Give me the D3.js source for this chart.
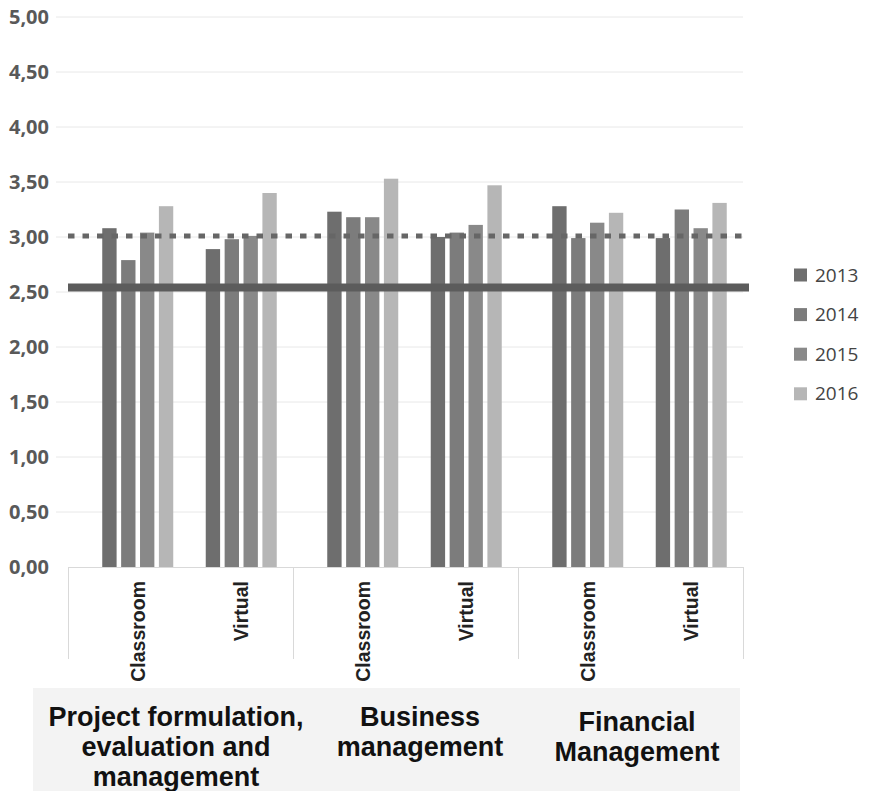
<!DOCTYPE html>
<html>
<head>
<meta charset="utf-8">
<script src="https://cdn.jsdelivr.net/npm/d3@7"></script>
<style>
  html, body { margin: 0; padding: 0; background: #fff; }
  svg { display: block; }
</style>
</head>
<body>
<svg id="chart" width="872" height="791"></svg>
<script>
// Course groups and delivery modes
const groups = ["Project formulation, evaluation and management", "Business management", "Financial Management"];
const groupLines = [
  ["Project formulation,", "evaluation and", "management"],
  ["Business", "management"],
  ["Financial", "Management"]
];
const modes = ["Classroom", "Virtual"];
const years = ["2013", "2014", "2015", "2016"];

// Scores per year, ordered group by group: Classroom then Virtual
const v2013 = [3.08, 2.89, 3.23, 3.00, 3.28, 2.99];
const v2014 = [2.79, 2.98, 3.18, 3.04, 2.99, 3.25];
const v2015 = [3.04, 3.01, 3.18, 3.11, 3.13, 3.08];
const v2016 = [3.28, 3.40, 3.53, 3.47, 3.22, 3.31];
const seriesValues = [v2013, v2014, v2015, v2016];

// Reference levels
const minLevel = 2.54;   // solid line
const goalLevel = 3.01;  // dotted line

const yTicks = [0, 0.5, 1, 1.5, 2, 2.5, 3, 3.5, 4, 4.5, 5];
const colors = ["#6e6e6e", "#7c7c7c", "#898989", "#b6b6b6"];

const svg = d3.select("#chart");

const plot = { left: 68, right: 743, top: 17, bottom: 567 };

const y = d3.scaleLinear().domain([0, 5]).range([plot.bottom, plot.top]);
const xGroup = d3.scaleBand().domain(groups).range([plot.left, plot.right]);
const xMode = d3.scaleBand().domain(modes).range([18, xGroup.bandwidth()]);
const clusterW = 71;
const xYear = d3.scaleBand().domain(years).range([-clusterW / 2, clusterW / 2]).paddingInner(0.24);

const fmt = v => d3.format(".2f")(v).replace(".", ",");

// Gridlines
svg.append("g")
  .selectAll("line")
  .data(yTicks.filter(t => t > 0))
  .join("line")
  .attr("x1", 56).attr("x2", plot.right)
  .attr("y1", d => y(d)).attr("y2", d => y(d))
  .attr("stroke", "#e8e8e8").attr("stroke-width", 1);

// Y axis labels
const yAxis = d3.axisLeft(y).tickValues(yTicks).tickFormat(fmt).tickSize(0).tickPadding(0);
const yg = svg.append("g").attr("transform", "translate(49,0)").call(yAxis);
yg.select(".domain").remove();
yg.selectAll("text")
  .attr("font-family", "'Open Sans', sans-serif")
  .attr("font-weight", "bold")
  .attr("font-size", "20px")
  .attr("fill", "#595959");

// Bars
const cats = [];
groups.forEach((g, gi) => modes.forEach((m, mi) => cats.push({ g, m, idx: gi * modes.length + mi })));

const barG = svg.append("g");
cats.forEach(c => {
  const cx = xGroup(c.g) + xMode(c.m) + xMode.bandwidth() / 2;
  barG.selectAll(null)
    .data(years.map((yr, i) => ({ yr, v: seriesValues[i][c.idx], i })))
    .join("rect")
    .attr("x", d => cx + xYear(d.yr))
    .attr("width", xYear.bandwidth())
    .attr("y", d => y(d.v))
    .attr("height", d => y(0) - y(d.v))
    .attr("fill", d => colors[d.i]);
});

// Category axis: baseline and group separators
const axisG = svg.append("g").attr("stroke", "#d9d9d9").attr("stroke-width", 1);
axisG.append("line")
  .attr("x1", plot.left).attr("x2", plot.right)
  .attr("y1", y(0) + 0.5).attr("y2", y(0) + 0.5);
const seps = groups.map(g => xGroup(g)).concat([plot.right]);
axisG.selectAll(".sep")
  .data(seps)
  .join("line")
  .attr("x1", d => d + 0.5).attr("x2", d => d + 0.5)
  .attr("y1", y(0)).attr("y2", 659);

// Mode labels, rotated
cats.forEach(c => {
  const cx = xGroup(c.g) + xMode(c.m) + xMode.bandwidth() / 2;
  svg.append("text")
    .attr("transform", `translate(${cx + 7},581) rotate(-90)`)
    .attr("text-anchor", "end")
    .attr("font-family", "'Liberation Sans', Arial, sans-serif")
    .attr("font-weight", "bold")
    .attr("font-size", "19.5px")
    .attr("fill", "#222")
    .text(c.m);
});

// Reference lines
svg.append("line")
  .attr("x1", plot.left).attr("x2", 749)
  .attr("y1", y(minLevel)).attr("y2", y(minLevel))
  .attr("stroke", "#5c5c5c").attr("stroke-width", 8);
svg.append("line")
  .attr("x1", plot.left).attr("x2", plot.right)
  .attr("y1", y(goalLevel)).attr("y2", y(goalLevel))
  .attr("stroke", "#666").attr("stroke-width", 5)
  .attr("stroke-dasharray", "6.5,8");

// Legend
const leg = svg.append("g").attr("transform", "translate(794,275)");
leg.selectAll("g")
  .data(years)
  .join("g")
  .attr("transform", (d, i) => `translate(0,${i * 39.6})`)
  .each(function (d, i) {
    const g = d3.select(this);
    g.append("rect").attr("x", 0).attr("y", -6.5).attr("width", 13).attr("height", 13).attr("fill", colors[i]);
    g.append("text")
      .attr("x", 21).attr("y", 0).attr("dy", "0.35em")
      .attr("font-family", "'Open Sans', sans-serif")
      .attr("font-size", "19px")
      .attr("fill", "#444")
      .text(d);
  });

// Group labels panel
svg.append("rect")
  .attr("x", 33).attr("y", 688).attr("width", 707).attr("height", 103)
  .attr("fill", "#f3f3f3");

const groupCenters = [176, 420, 637];
const groupTops = [717, 717, 722];
groups.forEach((g, gi) => {
  const t = svg.append("text")
    .attr("text-anchor", "middle")
    .attr("font-family", "'Liberation Sans', Arial, sans-serif")
    .attr("font-weight", "bold")
    .attr("font-size", "27px")
    .attr("fill", "#111");
  groupLines[gi].forEach((ln, li) => {
    t.append("tspan")
      .attr("x", groupCenters[gi])
      .attr("y", groupTops[gi] + li * 30)
      .attr("dy", "0.35em")
      .text(ln);
  });
});
</script>
</body>
</html>
